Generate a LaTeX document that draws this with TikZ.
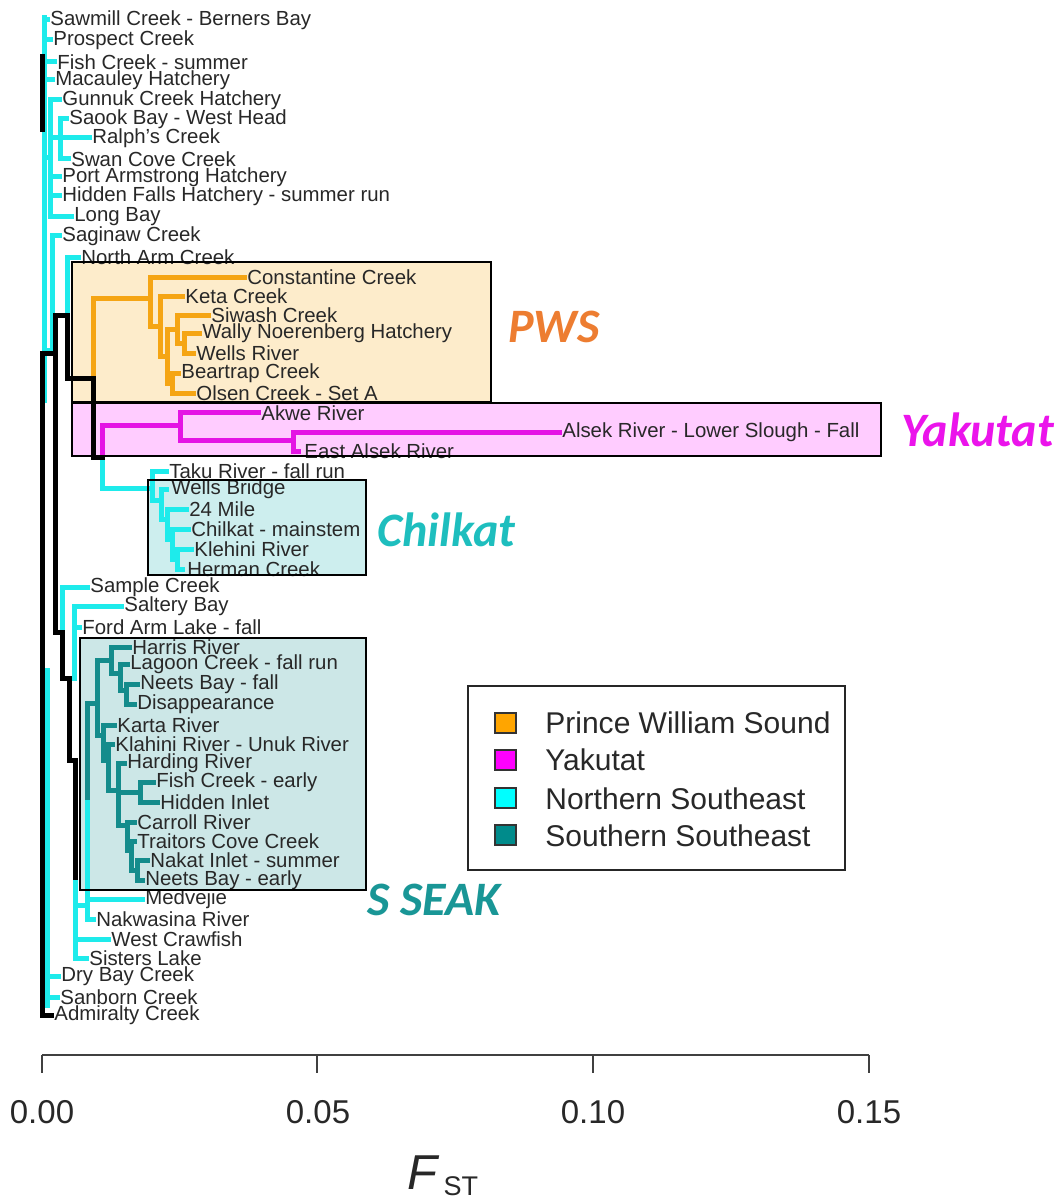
\documentclass[tikz,border=0pt]{standalone}
\usepackage{fontspec}
\setmainfont{Liberation Sans}
\newfontfamily\calib{Carlito}
\definecolor{cyl}{RGB}{30,235,235}
\definecolor{tll}{RGB}{20,140,140}
\definecolor{orl}{RGB}{245,165,20}
\definecolor{mgl}{RGB}{228,20,228}
\definecolor{pwsfill}{RGB}{253,236,203}
\definecolor{yakfill}{RGB}{255,204,255}
\definecolor{chkfill}{RGB}{205,238,238}
\definecolor{ssfill}{RGB}{204,231,231}
\definecolor{pwstxt}{RGB}{237,125,49}
\definecolor{yaktxt}{RGB}{235,20,235}
\definecolor{chktxt}{RGB}{30,190,190}
\definecolor{sstxt}{RGB}{25,150,150}
\definecolor{labtxt}{RGB}{40,40,40}
\begin{document}
\begin{tikzpicture}[x=0.5pt,y=-0.5pt,
  tr/.style={line width=2.5pt, line cap=rect, line join=miter},
  cy/.style={tr, draw=cyl},
  tl/.style={tr, draw=tll},
  orb/.style={tr, draw=orl},
  mg/.style={tr, draw=mgl},
  bk/.style={tr, draw=black},
  lab/.style={anchor=west, inner sep=0pt, text=labtxt, font=\fontsize{10.2}{12}\selectfont},
  grp/.style={anchor=west, inner sep=0pt, font=\calib\bfseries\itshape\fontsize{24}{28}\selectfont},
  boxb/.style={draw=black, line width=1.3pt},
  leg/.style={anchor=west, inner sep=0pt, text=labtxt, font=\fontsize{15}{18}\selectfont},
  sq/.style={draw=black!80, line width=0.7pt},
  ticklab/.style={anchor=center, inner sep=0pt, text=labtxt, font=\fontsize{16.5}{18}\selectfont}
]
\useasboundingbox (0,0) rectangle (1056,1198);
\fill[white] (0,0) rectangle (1056,1198);

% group box fills
\fill[pwsfill] (72,262) rectangle (491,402);
\fill[yakfill] (72,403) rectangle (881,456);
\fill[chkfill] (148,480) rectangle (366,575);
\fill[ssfill] (80,638) rectangle (366,890);

% ---- cyan, top part
\draw[cy] (44,18) -- (44,400);
\draw[cy] (44,20) -- (47,20);
\draw[cy] (44,40) -- (50,40);
\draw[cy] (44,62) -- (54,62);
\draw[cy] (44,80) -- (52,80);
\draw[cy] (44,158) -- (50,158);
\draw[cy] (59,100) -- (50,100) -- (50,217) -- (71,217);
\draw[cy] (50,138) -- (89,138);
\draw[cy] (66,119) -- (60,119) -- (60,159) -- (68,159);
\draw[cy] (50,177) -- (59,177);
\draw[cy] (50,196) -- (59,196);
\draw[cy] (59,236) -- (52,236) -- (52,350) -- (44,350);
\draw[cy] (78,257) -- (67,257) -- (67,315);

% ---- orange (PWS)
\draw[orb] (93,378) -- (93,298) -- (150,298);
\draw[orb] (244,277) -- (150,277) -- (150,326) -- (160,326);
\draw[orb] (182,296) -- (160,296) -- (160,356) -- (167,356);
\draw[orb] (167,329) -- (167,383) -- (172,383);
\draw[orb] (167,329) -- (177,329);
\draw[orb] (208,315) -- (177,315) -- (177,343) -- (184,343);
\draw[orb] (199,333) -- (184,333) -- (184,353) -- (193,353);
\draw[orb] (178,373) -- (172,373) -- (172,393) -- (193,393);

% ---- magenta (Yakutat)
\draw[mg] (102,457) -- (102,425) -- (180,425);
\draw[mg] (258,412) -- (180,412) -- (180,440) -- (293,440);
\draw[mg] (559,432) -- (293,432) -- (293,451) -- (298,451);

% ---- cyan (Taku / Chilkat)
\draw[cy] (102,457) -- (102,488) -- (152,488);
\draw[cy] (166,471) -- (152,471) -- (152,500) -- (161,500);
\draw[cy] (166,489) -- (161,489) -- (161,519) -- (167,519);
\draw[cy] (186,509) -- (167,509) -- (167,539) -- (172,539);
\draw[cy] (188,529) -- (172,529) -- (172,559) -- (177,559);
\draw[cy] (191,549) -- (177,549) -- (177,569) -- (182,569);

% ---- cyan, lower part
\draw[cy] (47,670) -- (47,1005);
\draw[cy] (47,976) -- (58,976);
\draw[cy] (47,997) -- (57,997);
\draw[cy] (87,587) -- (62,587) -- (62,632);
\draw[cy] (121,606) -- (74,606) -- (74,678);
\draw[cy] (74,627) -- (79,627);
\draw[cy] (87,797) -- (87,919) -- (93,919);
\draw[cy] (87,899) -- (142,899);
\draw[cy] (75,877) -- (75,958) -- (86,958);
\draw[cy] (75,939) -- (108,939);
\draw[cy] (75,905) -- (87,905);

% ---- teal (Southern Southeast)
\draw[tl] (87,797) -- (87,703) -- (97,703);
\draw[tl] (111,660) -- (97,660) -- (97,735) -- (103,735);
\draw[tl] (129,647) -- (111,647) -- (111,673) -- (120,673);
\draw[tl] (127,664) -- (120,664) -- (120,690) -- (126,690);
\draw[tl] (137,684) -- (126,684) -- (126,704) -- (134,704);
\draw[tl] (114,725) -- (103,725) -- (103,760) -- (108,760);
\draw[tl] (112,744) -- (108,744) -- (108,790) -- (118,790);
\draw[tl] (124,763) -- (118,763) -- (118,825) -- (127,825);
\draw[tl] (118,792) -- (140,792);
\draw[tl] (153,782) -- (140,782) -- (140,802) -- (157,802);
\draw[tl] (134,822) -- (127,822) -- (127,850) -- (131,850);
\draw[tl] (134,841) -- (131,841) -- (131,870) -- (137,870);
\draw[tl] (147,860) -- (137,860) -- (137,880) -- (142,880);

% ---- black backbone
\draw[bk] (42,57) -- (42,130);
\draw[bk] (42,353) -- (42,1015) -- (51,1015);
\draw[bk] (42,353) -- (55,353);
\draw[bk] (55,315) -- (67,315) -- (67,378) -- (93,378) -- (93,457) -- (102,457);
\draw[bk] (55,315) -- (55,632) -- (62,632) -- (62,678) -- (69,678) -- (69,760) -- (75,760) -- (75,877);

% ---- leaf labels
\node[lab] (sawmill) at (50,20) {Sawmill Creek - Berners Bay};
\node[lab] (prospect) at (53,40) {Prospect Creek};
\node[lab] (fishs) at (57,62) {Fish Creek - summer};
\node[lab] (macauley) at (55,80) {Macauley Hatchery};
\node[lab] (gunnuk) at (62,100) {Gunnuk Creek Hatchery};
\node[lab] (saook) at (69,119) {Saook Bay - West Head};
\node[lab] (ralph) at (92,138) {Ralph's Creek};
\node[lab] (swan) at (71,159) {Swan Cove Creek};
\node[lab] (portarm) at (62,177) {Port Armstrong Hatchery};
\node[lab] (hiddenf) at (62,196) {Hidden Falls Hatchery - summer run};
\node[lab] (longbay) at (74,217) {Long Bay};
\node[lab] (saginaw) at (62,236) {Saginaw Creek};
\node[lab] (northarm) at (81,257) {North Arm Creek};
\node[lab] (constantine) at (247,277) {Constantine Creek};
\node[lab] (keta) at (185,296) {Keta Creek};
\node[lab] (siwash) at (211,315) {Siwash Creek};
\node[lab] (wally) at (202,333) {Wally Noerenberg Hatchery};
\node[lab] (wells) at (196,353) {Wells River};
\node[lab] (beartrap) at (181,373) {Beartrap Creek};
\node[lab] (olsen) at (196,393) {Olsen Creek - Set A};
\node[lab] (akwe) at (261,413) {Akwe River};
\node[lab] (alsek) at (562,432) {Alsek River - Lower Slough - Fall};
\node[lab] (ealsek) at (304,451) {East Alsek River};
\node[lab] (taku) at (169,471) {Taku River - fall run};
\node[lab] (wellsb) at (171,489) {Wells Bridge};
\node[lab] (mile) at (189,509) {24 Mile};
\node[lab] (chilkat) at (191,529) {Chilkat - mainstem};
\node[lab] (klehini) at (194,549) {Klehini River};
\node[lab] (herman) at (187,569) {Herman Creek};
\node[lab] (sample) at (90,587) {Sample Creek};
\node[lab] (saltery) at (124,606) {Saltery Bay};
\node[lab] (fordarm) at (82,627) {Ford Arm Lake - fall};
\node[lab] (harris) at (132,647) {Harris River};
\node[lab] (lagoon) at (130,664) {Lagoon Creek - fall run};
\node[lab] (neetsf) at (140,684) {Neets Bay - fall};
\node[lab] (disapp) at (137,704) {Disappearance};
\node[lab] (karta) at (117,725) {Karta River};
\node[lab] (klahini) at (115,744) {Klahini River - Unuk River};
\node[lab] (harding) at (127,763) {Harding River};
\node[lab] (fishe) at (156,782) {Fish Creek - early};
\node[lab] (hiddeni) at (160,802) {Hidden Inlet};
\node[lab] (carroll) at (137,822) {Carroll River};
\node[lab] (traitors) at (137,841) {Traitors Cove Creek};
\node[lab] (nakat) at (150,860) {Nakat Inlet - summer};
\node[lab] (neetse) at (145,880) {Neets Bay - early};
\node[lab] (medvejie) at (145,899) {Medvejie};
\node[lab] (nakwasina) at (96,919) {Nakwasina River};
\node[lab] (westc) at (111,939) {West Crawfish};
\node[lab] (sisters) at (89,958) {Sisters Lake};
\node[lab] (drybay) at (61,976) {Dry Bay Creek};
\node[lab] (sanborn) at (60,997) {Sanborn Creek};
\node[lab] (admiralty) at (54,1015) {Admiralty Creek};

% group box borders
\draw[boxb] (72,262) rectangle (491,402);
\draw[boxb] (72,403) rectangle (881,456);
\draw[boxb] (148,480) rectangle (366,575);
\draw[boxb] (80,638) rectangle (366,890);

% group names
\node[grp, text=pwstxt] (gpws) at (508,327) {PWS};
\node[grp, text=yaktxt] (gyak) at (901,430) {Yakutat};
\node[grp, text=chktxt] (gchk) at (377,530) {Chilkat};
\node[grp, text=sstxt] (gss) at (367,900) {S SEAK};

% legend
\draw[draw=black!85, line width=1pt, fill=white] (468,686) rectangle (845,870);
\draw[sq, fill={rgb,255:red,255;green,165;blue,0}] (495,713) rectangle (516,733);
\draw[sq, fill={rgb,255:red,255;green,0;blue,255}] (495,750) rectangle (516,770);
\draw[sq, fill={rgb,255:red,0;green,255;blue,255}] (495,788) rectangle (516,808);
\draw[sq, fill={rgb,255:red,0;green,139;blue,139}] (495,825) rectangle (516,845);
\node[leg] (lpws) at (545,723) {Prince William Sound};
\node[leg] (lyak) at (545,760) {Yakutat};
\node[leg] (lnse) at (545,799) {Northern Southeast};
\node[leg] (lsse) at (545,836) {Southern Southeast};

% axis
\draw[draw=black!75, line width=1pt] (42,1055) -- (869,1055);
\foreach \xx in {42,317,593,869} \draw[draw=black!75, line width=1pt] (\xx,1055) -- (\xx,1073);
\node[ticklab] (t0) at (42,1112) {0.00};
\node[ticklab] (t1) at (318,1112) {0.05};
\node[ticklab] (t2) at (593,1112) {0.10};
\node[ticklab] (t3) at (869,1112) {0.15};
\node[anchor=base west, inner sep=0pt, text=labtxt, font=\fontsize{24.5}{26}\selectfont] (fst) at (407,1189) {\textit{F}\hspace{2pt}\raisebox{-3pt}{\fontsize{13.5}{14}\selectfont ST}};
\end{tikzpicture}
\end{document}
